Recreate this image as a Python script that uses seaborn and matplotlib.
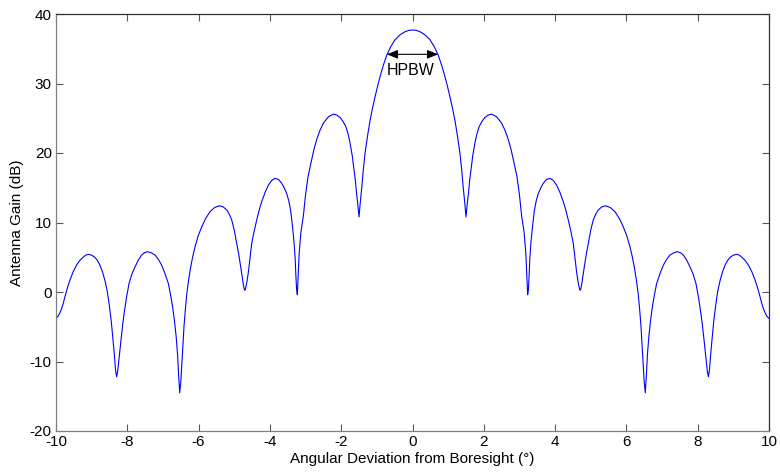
import matplotlib
matplotlib.use("Agg")
import matplotlib.pyplot as plt
import seaborn as sns
import pandas as pd

# Antenna gain pattern (dB) versus angle off boresight (degrees)
angle_deg = [
    -10.00, -9.95, -9.90, -9.85, -9.80, -9.75, -9.68, -9.61, -9.52, -9.42,
    -9.33, -9.23, -9.16, -9.09, -9.00, -8.91, -8.84, -8.77, -8.70, -8.63,
    -8.56, -8.50, -8.45, -8.41, -8.37, -8.33, -8.30, -8.27, -8.23, -8.18,
    -8.13, -8.09, -8.02, -7.95, -7.87, -7.78, -7.69, -7.60, -7.52, -7.43,
    -7.33, -7.22, -7.13, -7.04, -6.95, -6.85, -6.79, -6.73, -6.68, -6.63,
    -6.59, -6.56, -6.53, -6.50, -6.46, -6.41, -6.37, -6.33, -6.28, -6.22,
    -6.16, -6.10, -6.01, -5.91, -5.80, -5.68, -5.55, -5.42, -5.31, -5.21,
    -5.14, -5.07, -5.00, -4.93, -4.87, -4.82, -4.78, -4.75, -4.72, -4.70,
    -4.67, -4.64, -4.60, -4.56, -4.51, -4.44, -4.37, -4.30, -4.23, -4.13,
    -4.04, -3.95, -3.86, -3.76, -3.67, -3.60, -3.53, -3.47, -3.42, -3.37,
    -3.32, -3.29, -3.27, -3.25, -3.23, -3.21, -3.18, -3.13, -3.06, -3.00,
    -2.93, -2.83, -2.76, -2.69, -2.60, -2.50, -2.36, -2.22, -2.12, -2.03,
    -1.95, -1.87, -1.81, -1.75, -1.69, -1.64, -1.60, -1.57, -1.53, -1.50,
    -1.47, -1.42, -1.38, -1.33, -1.26, -1.19, -1.12, -1.05, -0.98, -0.91,
    -0.82, -0.72, -0.61, -0.49, -0.35, -0.21, -0.10, 0.00,
    0.10, 0.21, 0.35, 0.49, 0.61, 0.72, 0.82,
    0.91, 0.98, 1.05, 1.12, 1.19, 1.26, 1.33, 1.38, 1.42, 1.47,
    1.50, 1.53, 1.57, 1.60, 1.64, 1.69, 1.75, 1.81, 1.87, 1.95,
    2.03, 2.12, 2.22, 2.36, 2.50, 2.60, 2.69, 2.76, 2.83, 2.93,
    3.00, 3.06, 3.13, 3.18, 3.21, 3.23, 3.25, 3.27, 3.29, 3.32,
    3.37, 3.42, 3.47, 3.53, 3.60, 3.67, 3.76, 3.86, 3.95, 4.04,
    4.13, 4.23, 4.30, 4.37, 4.44, 4.51, 4.56, 4.60, 4.64, 4.67,
    4.70, 4.72, 4.75, 4.78, 4.82, 4.87, 4.93, 5.00, 5.07, 5.14,
    5.21, 5.31, 5.42, 5.55, 5.68, 5.80, 5.91, 6.01, 6.10, 6.16,
    6.22, 6.28, 6.33, 6.37, 6.41, 6.46, 6.50, 6.53, 6.56, 6.59,
    6.63, 6.68, 6.73, 6.79, 6.85, 6.95, 7.04, 7.13, 7.22, 7.33,
    7.43, 7.52, 7.60, 7.69, 7.78, 7.87, 7.95, 8.02, 8.09, 8.13,
    8.18, 8.23, 8.27, 8.30, 8.33, 8.37, 8.41, 8.45, 8.50, 8.56,
    8.63, 8.70, 8.77, 8.84, 8.91, 9.00, 9.09, 9.16, 9.23, 9.33,
    9.42, 9.52, 9.61, 9.68, 9.75, 9.80, 9.85, 9.90, 9.95, 10.00,
]
gain_db = [
    -3.80, -3.55, -3.10, -2.50, -1.70, -0.70, 0.60, 1.70, 2.90, 3.90,
    4.55, 5.05, 5.32, 5.42, 5.30, 5.00, 4.55, 3.90, 2.95, 1.70,
    0.05, -2.10, -4.20, -6.40, -8.60, -11.20, -12.20, -11.40, -9.50, -7.00,
    -4.70, -3.10, -0.70, 1.25, 2.60, 3.65, 4.60, 5.30, 5.65, 5.80,
    5.65, 5.30, 4.70, 3.90, 2.75, 1.25, -0.30, -2.10, -4.00, -6.40,
    -9.00, -12.00, -14.50, -13.00, -9.50, -5.00, -2.40, -0.20, 1.70, 3.65,
    5.20, 6.50, 8.10, 9.40, 10.60, 11.55, 12.15, 12.40, 12.25, 11.80,
    11.20, 10.35, 8.90, 7.00, 5.30, 3.65, 2.30, 1.20, 0.40, 0.25,
    0.80, 1.60, 3.00, 4.80, 7.00, 8.80, 10.35, 11.80, 13.00, 14.40,
    15.40, 16.05, 16.35, 16.20, 15.65, 15.00, 14.20, 13.10, 11.80, 9.60,
    7.00, 4.70, 2.20, 0.30, -0.40, 2.00, 5.50, 8.60, 11.00, 14.00,
    16.60, 19.00, 20.60, 21.90, 23.20, 24.30, 25.20, 25.60, 25.45, 25.10,
    24.55, 23.80, 22.80, 21.40, 19.60, 17.50, 15.90, 14.20, 12.40, 10.80,
    12.60, 15.20, 17.60, 20.00, 22.50, 24.70, 26.50, 28.10, 29.60, 31.00,
    32.60, 34.10, 35.30, 36.30, 37.00, 37.45, 37.65, 37.70,
    37.65, 37.45, 37.00, 36.30, 35.30, 34.10, 32.60,
    31.00, 29.60, 28.10, 26.50, 24.70, 22.50, 20.00, 17.60, 15.20, 12.60,
    10.80, 12.40, 14.20, 15.90, 17.50, 19.60, 21.40, 22.80, 23.80, 24.55,
    25.10, 25.45, 25.60, 25.20, 24.30, 23.20, 21.90, 20.60, 19.00, 16.60,
    14.00, 11.00, 8.60, 5.50, 2.00, -0.40, 0.30, 2.20, 4.70, 7.00,
    9.60, 11.80, 13.10, 14.20, 15.00, 15.65, 16.20, 16.35, 16.05, 15.40,
    14.40, 13.00, 11.80, 10.35, 8.80, 7.00, 4.80, 3.00, 1.60, 0.80,
    0.25, 0.40, 1.20, 2.30, 3.65, 5.30, 7.00, 8.90, 10.35, 11.20,
    11.80, 12.25, 12.40, 12.15, 11.55, 10.60, 9.40, 8.10, 6.50, 5.20,
    3.65, 1.70, -0.20, -2.40, -5.00, -9.50, -13.00, -14.50, -12.00, -9.00,
    -6.40, -4.00, -2.10, -0.30, 1.25, 2.75, 3.90, 4.70, 5.30, 5.65,
    5.80, 5.65, 5.30, 4.60, 3.65, 2.60, 1.25, -0.70, -3.10, -4.70,
    -7.00, -9.50, -11.40, -12.20, -11.20, -8.60, -6.40, -4.20, -2.10, 0.05,
    1.70, 2.95, 3.90, 4.55, 5.00, 5.30, 5.42, 5.32, 5.05, 4.55,
    3.90, 2.90, 1.70, 0.60, -0.70, -1.70, -2.50, -3.10, -3.55, -3.80,
]

# Half-power beamwidth marker
hpbw_left = -0.72
hpbw_right = 0.72
hpbw_level = 34.2
hpbw_label = "HPBW"

x_ticks = [-10, -8, -6, -4, -2, 0, 2, 4, 6, 8, 10]
y_ticks = [-20, -10, 0, 10, 20, 30, 40]

pattern = pd.DataFrame({"angle": angle_deg, "gain": gain_db})

sns.set_theme(style="white")
plt.rcParams["font.family"] = ["Liberation Sans", "DejaVu Sans"]

fig = plt.figure(figsize=(7.8, 4.74), dpi=100)
ax = fig.add_axes([56 / 780, 1 - 431 / 474, 713 / 780, 417 / 474])

sns.lineplot(data=pattern, x="angle", y="gain", ax=ax, sort=False,
             estimator=None, color="#0000ff", linewidth=0.8)

ax.annotate("", xy=(hpbw_left, hpbw_level), xytext=(hpbw_right, hpbw_level),
            arrowprops=dict(arrowstyle="<|-|>,head_length=0.55,head_width=0.22",
                            color="black", lw=0.8, shrinkA=0, shrinkB=0))
ax.text((hpbw_left + hpbw_right) / 2 - 0.04, hpbw_level - 2.3, hpbw_label,
        ha="center", va="center", fontsize=11.5, color="black")

ax.set_xlim(x_ticks[0], x_ticks[-1])
ax.set_ylim(y_ticks[0], y_ticks[-1])
ax.set_xticks(x_ticks)
ax.set_yticks(y_ticks)
ax.set_xticklabels([str(t) for t in x_ticks])
ax.set_yticklabels([str(t) for t in y_ticks])

ax.tick_params(axis="both", which="both", direction="in", length=5, width=0.8,
               color="#555555", labelsize=11, labelcolor="black",
               top=True, right=True, bottom=True, left=True, pad=3)

for side in ["left", "bottom"]:
    ax.spines[side].set_color("#808080")
for side in ["top", "right"]:
    ax.spines[side].set_color("#303030")
for side in ax.spines:
    ax.spines[side].set_visible(True)
    ax.spines[side].set_linewidth(0.9)

ax.set_xlabel("Angular Deviation from Boresight (\u00b0)", fontsize=11,
              color="black", labelpad=2)
ax.set_ylabel("Antenna Gain (dB)", fontsize=11, color="black", labelpad=4)
ax.grid(False)
ax.set_facecolor("white")

fig.savefig("out.png", dpi=100, facecolor="white")
